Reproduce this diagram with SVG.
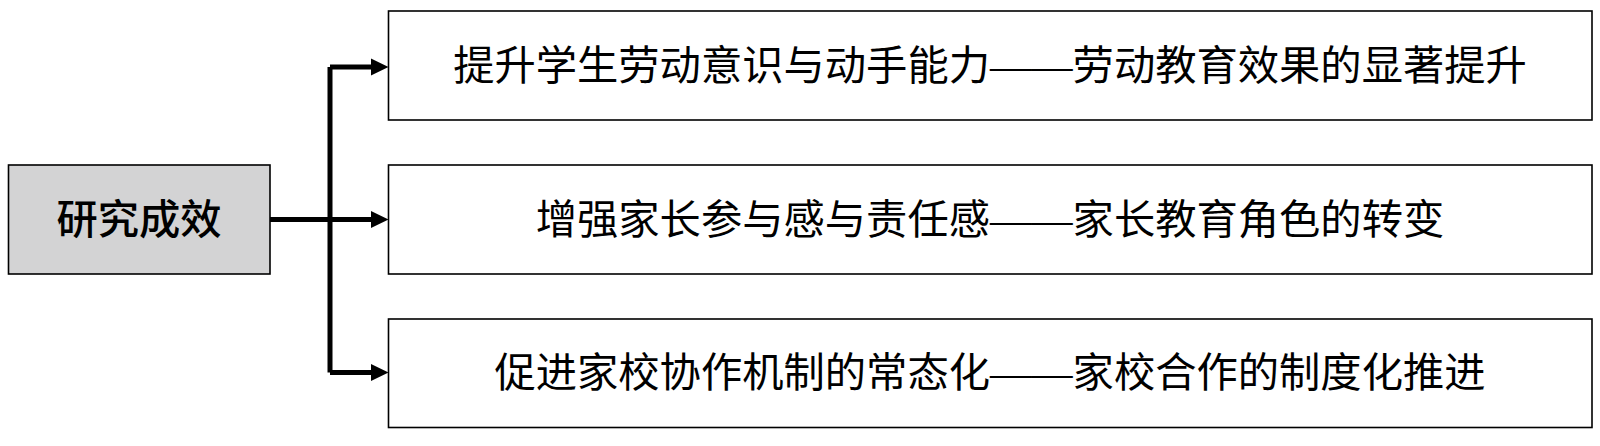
<svg xmlns="http://www.w3.org/2000/svg" width="1600" height="446" viewBox="0 0 1600 446">
<style>
.box{fill:#fff;stroke:#000;stroke-width:1.6}
.root{fill:#d3d3d4;stroke:#000;stroke-width:1.6}
.t{font-family:"Liberation Serif","Noto Sans CJK SC",serif;font-size:41.3px;fill:#000;text-anchor:middle;dominant-baseline:central}
.conn{fill:none;stroke:#000;stroke-width:5}
</style>
<rect width="1600" height="446" fill="#fff"/>
<g id="connectors">
<path class="conn" d="M270,219.5 H330"/>
<path class="conn" d="M330,67 V372.5"/>
<path class="conn" d="M330,67 H372" />
<path class="conn" d="M330,219.5 H372"/>
<path class="conn" d="M330,372.5 H372"/>
<path d="M371,58.5 L388.5,67 L371,75.5 Z" fill="#000"/>
<path d="M371,211 L388.5,219.5 L371,228 Z" fill="#000"/>
<path d="M371,364 L388.5,372.5 L371,381 Z" fill="#000"/>
</g>
<g id="root">
<rect class="root" x="8.5" y="165" width="261.5" height="109"/>
<text class="t" x="139" y="219.5" style="font-weight:500">研究成效</text>
</g>
<g id="n1">
<rect class="box" x="388.5" y="11" width="1203.5" height="109"/>
<text class="t" x="990" y="65.5">提升学生劳动意识与动手能力——劳动教育效果的显著提升</text>
</g>
<g id="n2">
<rect class="box" x="388.5" y="165" width="1203.5" height="109"/>
<text class="t" x="990" y="219.5">增强家长参与感与责任感——家长教育角色的转变</text>
</g>
<g id="n3">
<rect class="box" x="388.5" y="319" width="1203.5" height="108.5"/>
<text class="t" x="990" y="373">促进家校协作机制的常态化——家校合作的制度化推进</text>
</g>
</svg>
